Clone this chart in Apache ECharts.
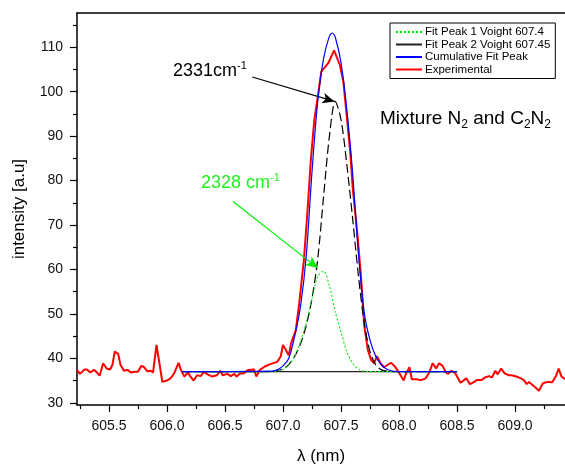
<!DOCTYPE html>
<html>
<head>
<meta charset="utf-8">
<script src="https://cdn.jsdelivr.net/npm/echarts@6/dist/echarts.min.js"></script>
<style>
    html, body { margin: 0; padding: 0; background: #fff; }
    #chart { width: 565px; height: 464px; }
</style>
</head>
<body>
<div id="chart"></div>
<script>
// axis ticks
var xMajorTicks = [605.5, 606.0, 606.5, 607.0, 607.5, 608.0, 608.5, 609.0];
var xMinorTicks = [605.25, 605.75, 606.25, 606.75, 607.25, 607.75, 608.25, 608.75, 609.25];
var yMajorTicks = [30, 40, 50, 60, 70, 80, 90, 100, 110];
var yMinorTicks = [35, 45, 55, 65, 75, 85, 95, 105, 115];

// experimental spectrum
var expWl = [605.225, 605.25, 605.29, 605.31, 605.34, 605.37, 605.39, 605.42, 605.45, 605.48,
    605.51, 605.53, 605.55, 605.58, 605.60, 605.63, 605.66, 605.69, 605.72, 605.75,
    605.78, 605.80, 605.83, 605.86, 605.88, 605.91, 605.94, 605.96, 606.00, 606.03,
    606.06, 606.10, 606.12, 606.15, 606.18, 606.20, 606.23, 606.26, 606.29, 606.32,
    606.35, 606.39, 606.43, 606.46, 606.48, 606.52, 606.55, 606.58, 606.60, 606.63,
    606.66, 606.70, 606.75, 606.77, 606.80, 606.84, 606.89, 606.95, 606.98, 607.00,
    607.05, 607.07, 607.11, 607.14, 607.18, 607.21, 607.24, 607.27, 607.30, 607.33,
    607.39, 607.44, 607.49, 607.52, 607.55, 607.58, 607.60, 607.64, 607.67, 607.70,
    607.73, 607.76, 607.785, 607.81, 607.84, 607.87, 607.90, 607.93, 607.96, 607.995,
    608.04, 608.06, 608.09, 608.11, 608.15, 608.19, 608.23, 608.26, 608.29, 608.32,
    608.345, 608.375, 608.40, 608.42, 608.45, 608.48, 608.53, 608.56, 608.58, 608.61,
    608.64, 608.67, 608.71, 608.74, 608.775, 608.80, 608.83, 608.85, 608.88, 608.91,
    608.945, 608.97, 609.01, 609.05, 609.075, 609.10, 609.12, 609.16, 609.205, 609.24,
    609.28, 609.32, 609.35, 609.375, 609.40, 609.43];
var expInt = [37.4, 36.5, 37.5, 37.5, 36.8, 37.4, 37.0, 36.1, 38.9, 37.7,
    37.5, 38.5, 41.5, 41.0, 38.5, 37.2, 37.4, 36.8, 37.0, 37.0,
    38.3, 38.1, 37.1, 37.2, 36.8, 43.0, 38.1, 34.7, 35.0, 35.5,
    36.5, 39.0, 37.4, 35.9, 36.8, 36.0, 35.0, 36.2, 36.0, 37.0,
    36.4, 35.9, 36.2, 37.2, 36.2, 36.5, 36.0, 36.5, 35.9, 36.6,
    36.6, 37.4, 37.5, 35.9, 37.4, 38.1, 38.7, 39.2, 40.4, 43.0,
    40.7, 43.4, 46.3, 52.4, 62.1, 72.7, 84.6, 93.7, 98.9, 104.5,
    106.4, 109.3, 106.0, 102.3, 94.4, 86.2, 78.6, 68.2, 59.1, 47.5,
    42.0, 39.6, 38.9, 40.5, 38.9, 38.0, 38.5, 39.0, 38.3, 37.0,
    35.0, 36.6, 38.0, 35.3, 35.3, 35.1, 35.5, 36.8, 38.9, 37.7,
    38.9, 38.3, 37.0, 36.5, 37.2, 36.8, 34.5, 35.1, 35.5, 34.2,
    34.6, 35.1, 35.1, 35.7, 36.0, 35.7, 37.2, 36.4, 37.7, 36.6,
    36.2, 36.2, 35.9, 35.5, 35.1, 34.2, 34.7, 33.8, 32.7, 34.4,
    34.7, 34.6, 35.9, 37.7, 35.9, 35.3];

// fitted peaks
var fitWl = [606.13, 606.9, 606.95, 607.0, 607.05, 607.1, 607.15, 607.2, 607.25, 607.3,
    607.35, 607.4, 607.45, 607.5, 607.55, 607.6, 607.65, 607.7, 607.75, 607.8,
    607.85, 607.9, 608.0, 608.5];
var peak1 = [37.0, 37.0, 37.1, 37.5, 38.5, 40.4, 43.7, 48.0, 53.5, 58.5,
    59.6, 56.3, 50.5, 45.9, 41.5, 38.9, 37.6, 37.1, 37.0, 37.0,
    37.0, 37.0, 37.0, 37.0];
var peak2 = [37.0, 37.0, 37.2, 37.6, 38.6, 40.4, 43.2, 47.3, 53.5, 62.5,
    76.5, 90.0, 97.8, 93.7, 83.6, 71.5, 58.6, 48.0, 41.5, 38.5,
    37.4, 37.1, 37.0, 37.0];
var baseWl = [606.13, 608.5];
var baseInt = [37, 37];
var cumWl = [606.13, 606.9, 606.95, 607.0, 607.05, 607.1, 607.15, 607.2, 607.25, 607.3,
    607.35, 607.4, 607.425, 607.45, 607.5, 607.55, 607.6, 607.65, 607.7, 607.75,
    607.8, 607.85, 607.9, 608.0, 608.5];
var cumInt = [37.0, 37.1, 37.4, 38.3, 40.0, 44.9, 51.5, 62.9, 82.0, 98.0,
    107.5, 112.5, 113.2, 112.3, 106.5, 96.0, 81.7, 63.5, 50.3, 44.1,
    40.4, 38.5, 37.5, 37.0, 37.0];

var FONT = '"Liberation Sans", Arial, sans-serif';

function pairs(xs, ys) {
    return xs.map(function (x, i) { return [x, ys[i]]; });
}

var chart = echarts.init(document.getElementById('chart'));

var option = {
    animation: false,
    backgroundColor: '#fff',
    textStyle: { fontFamily: FONT },
    grid: { left: 77, right: 0, top: 13, bottom: 59, outerBoundsMode: 'none', containLabel: false },
    legend: {
        orient: 'vertical',
        left: 390,
        top: 23,
        padding: [3, 5, 3, 5],
        itemWidth: 26,
        itemHeight: 14,
        itemGap: 0.5,
        borderColor: '#000',
        borderWidth: 1,
        backgroundColor: '#fff',
        itemStyle: { opacity: 0, borderWidth: 0 },
        textStyle: { fontFamily: FONT, fontSize: 11.5, color: '#000', padding: [0, 0, 0, -2] },
        data: ['Fit Peak 1 Voight 607.4', 'Fit Peak 2 Voight 607.45', 'Cumulative Fit Peak', 'Experimental']
    },
    xAxis: [{
        type: 'value',
        min: 605.225,
        max: 609.43,
        position: 'bottom',
        name: 'λ (nm)',
        nameLocation: 'middle',
        nameGap: 43,
        nameTextStyle: { fontFamily: FONT, fontSize: 17, color: '#000' },
        axisLine: { lineStyle: { color: '#000', width: 1.5 } },
        axisTick: { customValues: xMajorTicks, length: 7, lineStyle: { color: '#000', width: 1.2 } },
        axisLabel: {
            customValues: xMajorTicks,
            margin: 14,
            fontFamily: FONT,
            fontSize: 14,
            color: '#111',
            formatter: function (v) { return v.toFixed(1); }
        },
        splitLine: { show: false }
    }, {
        type: 'value',
        min: 605.225,
        max: 609.43,
        position: 'bottom',
        axisLine: { show: false },
        axisTick: { customValues: xMinorTicks, length: 4, lineStyle: { color: '#000', width: 1.2 } },
        axisLabel: { show: false },
        splitLine: { show: false }
    }, {
        type: 'value',
        min: 605.225,
        max: 609.43,
        position: 'top',
        axisLine: { lineStyle: { color: '#000', width: 1.5 } },
        axisTick: { show: false },
        axisLabel: { show: false },
        splitLine: { show: false }
    }],
    yAxis: [{
        type: 'value',
        min: 29.5,
        max: 117.7,
        name: 'intensity [a.u]',
        nameLocation: 'middle',
        nameGap: 49,
        nameTextStyle: { fontFamily: FONT, fontSize: 17, color: '#000' },
        axisLine: { show: true, lineStyle: { color: '#000', width: 1.5 } },
        axisTick: { show: true, customValues: yMajorTicks, length: 7, lineStyle: { color: '#000', width: 1.2 } },
        axisLabel: { customValues: yMajorTicks, margin: 14, fontFamily: FONT, fontSize: 14, color: '#111' },
        splitLine: { show: false }
    }, {
        type: 'value',
        min: 29.5,
        max: 117.7,
        position: 'left',
        axisLine: { show: false },
        axisTick: { show: true, customValues: yMinorTicks, length: 4, lineStyle: { color: '#000', width: 1.2 } },
        axisLabel: { show: false },
        splitLine: { show: false }
    }],
    series: [{
        name: 'Experimental',
        type: 'line',
        data: pairs(expWl, expInt),
        symbol: 'none',
        z: 2,
        lineStyle: { color: '#ff0000', width: 2 },
        itemStyle: { color: '#ff0000' },
        markLine: {
            silent: true,
            animation: false,
            label: { show: false },
            symbolSize: [8, 12],
            data: [
                [{ coord: [606.735, 103.3], symbol: 'none', lineStyle: { color: '#000', width: 1.2, type: 'solid' } },
                    { coord: [607.443, 97.8], symbol: 'arrow' }],
                [{ coord: [606.57, 75.3], symbol: 'none', lineStyle: { color: '#00ee00', width: 1.2, type: 'solid' } },
                    { coord: [607.30, 60.3], symbol: 'arrow' }]
            ]
        }
    }, {
        name: 'Fit Peak 2 Voight 607.45',
        type: 'line',
        data: pairs(baseWl, baseInt),
        symbol: 'none',
        z: 3,
        lineStyle: { color: '#222', width: 1.2 },
        itemStyle: { color: '#222' }
    }, {
        name: 'peak2',
        type: 'line',
        data: pairs(fitWl, peak2),
        symbol: 'none',
        smooth: 0.3,
        z: 3,
        lineStyle: { color: '#000', width: 1.2, type: [9, 4] },
        itemStyle: { color: '#000' }
    }, {
        name: 'Fit Peak 1 Voight 607.4',
        type: 'line',
        data: pairs(fitWl, peak1),
        symbol: 'none',
        smooth: 0.3,
        z: 4,
        lineStyle: { color: '#00ee00', width: 1.1, type: [2, 2] },
        itemStyle: { color: '#00ee00' }
    }, {
        name: 'Cumulative Fit Peak',
        type: 'line',
        data: pairs(cumWl, cumInt),
        symbol: 'none',
        smooth: 0.3,
        z: 5,
        lineStyle: { color: '#0000ff', width: 1.2 },
        itemStyle: { color: '#0000ff' }
    }],
    graphic: [{
        type: 'text',
        left: 173,
        top: 60,
        style: {
            text: '{a|2331cm}{s|-1}',
            rich: {
                a: { fontFamily: FONT, fontSize: 18, lineHeight: 22, fill: '#000' },
                s: { fontFamily: FONT, fontSize: 11, lineHeight: 22, verticalAlign: 'top', fill: '#000' }
            }
        }
    }, {
        type: 'text',
        left: 201,
        top: 172,
        style: {
            text: '{a|2328 cm}{s|-1}',
            rich: {
                a: { fontFamily: FONT, fontSize: 18, lineHeight: 22, fill: '#1ef01e' },
                s: { fontFamily: FONT, fontSize: 11, lineHeight: 22, verticalAlign: 'top', fill: '#1ef01e' }
            }
        }
    }, {
        type: 'text',
        left: 380,
        top: 109,
        style: {
            text: '{a|Mixture N}{b|2}{a| and C}{b|2}{a|N}{b|2}',
            rich: {
                a: { fontFamily: FONT, fontSize: 19, lineHeight: 24, fill: '#000' },
                b: { fontFamily: FONT, fontSize: 12, lineHeight: 24, verticalAlign: 'bottom', fill: '#000' }
            }
        }
    }]
};

chart.setOption(option);
</script>
</body>
</html>
